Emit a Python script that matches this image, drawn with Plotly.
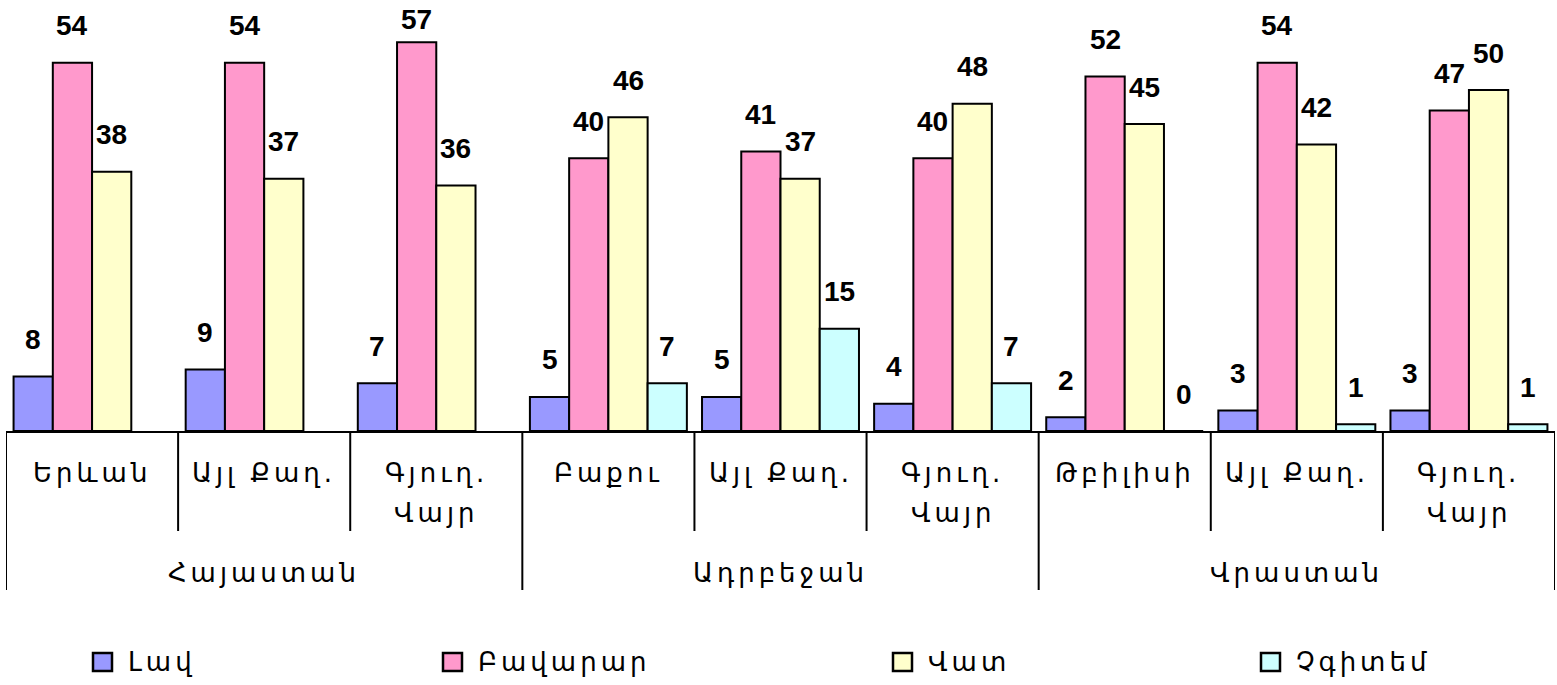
import plotly.graph_objects as go

# Survey results by settlement type, grouped by country
categories = ["Երևան", "Այլ Քաղ.", "Գյուղ.\nՎայր",
              "Բաքու", "Այլ Քաղ.", "Գյուղ.\nՎայր",
              "Թբիլիսի", "Այլ Քաղ.", "Գյուղ.\nՎայր"]
countries = ["Հայաստան", "Ադրբեջան", "Վրաստան"]
cats_per_country = 3

series_names = ["Լավ", "Բավարար", "Վատ", "Չգիտեմ"]
lav = [8, 9, 7, 5, 5, 4, 2, 3, 3]
bavarar = [54, 54, 57, 40, 41, 40, 52, 54, 47]
vat = [38, 37, 36, 46, 37, 48, 45, 42, 50]
chgitem = [None, None, None, 7, 15, 7, 0, 1, 1]
series_values = [lav, bavarar, vat, chgitem]
colors = ["#9999FF", "#FF99CC", "#FFFFCC", "#CCFFFF"]

W, H = 1557, 685
M_L, M_R, M_T, M_B = 6, 2, 0, 254
PLOT_H = H - M_T - M_B
Y_MAX = 63.2
BAR_W = 0.228
LABEL_FONT = dict(family="Liberation Sans, Arial", size=28, color="black")
TEXT_FONT = dict(family="DejaVu Sans", size=26, color="black")
LABEL_GAP = 37      # px from bar top to label centre
LABEL_MIN_Y = 20    # keep labels inside the page


def paper_y(py):
    """Convert a pixel row of the page to paper y coordinates."""
    return (H - M_B - py) / PLOT_H


def bar_top_px(v):
    return H - M_B - v / Y_MAX * PLOT_H


fig = go.Figure()
annotations = []
shapes = []

n_series = len(series_values)
for j, (name, vals, col) in enumerate(zip(series_names, series_values, colors)):
    offset = (j - (n_series - 1) / 2) * BAR_W
    xs, ys = [], []
    for i, v in enumerate(vals):
        if v is None:
            continue
        xs.append(i + offset)
        ys.append(v)
        top = bar_top_px(v)
        shift = min(LABEL_GAP, top - LABEL_MIN_Y)
        annotations.append(dict(x=i + offset, y=v, xref="x", yref="y",
                                text=f"<b>{v}</b>", showarrow=False,
                                yanchor="middle", yshift=shift, font=LABEL_FONT))
    fig.add_trace(go.Bar(x=xs, y=ys, width=BAR_W, name=name,
                         marker=dict(color=col, line=dict(color="black", width=2)),
                         showlegend=False))

# Category labels and separators below the axis
for i, lab in enumerate(categories):
    for k, line in enumerate(lab.split("\n")):
        annotations.append(dict(x=i, y=paper_y(473 + 40 * k), xref="x", yref="paper",
                                text=line, showarrow=False, yanchor="middle",
                                font=TEXT_FONT))
n_cat = len(categories)
for b in range(n_cat + 1):
    is_group = b % cats_per_country == 0
    shapes.append(dict(type="line", xref="x", yref="paper",
                       x0=b - 0.5, x1=b - 0.5, y0=0,
                       y1=paper_y(590 if is_group else 531),
                       line=dict(color="black", width=2)))
for g, country in enumerate(countries):
    xc = g * cats_per_country + (cats_per_country - 1) / 2
    annotations.append(dict(x=xc, y=paper_y(573), xref="x", yref="paper",
                            text=country, showarrow=False, yanchor="middle",
                            font=TEXT_FONT))

# Legend row
legend_x = [93, 443, 893, 1261]
PW = W - M_L - M_R
for name, col, lx in zip(series_names, colors, legend_x):
    shapes.append(dict(type="rect", xref="paper", yref="paper",
                       x0=(lx - M_L) / PW, x1=(lx + 19 - M_L) / PW,
                       y0=paper_y(671), y1=paper_y(653),
                       fillcolor=col, line=dict(color="black", width=2.5)))
    annotations.append(dict(x=(lx + 33 - M_L) / PW, y=paper_y(662),
                            xref="paper", yref="paper", text=name, showarrow=False,
                            xanchor="left", yanchor="middle", align="left",
                            font=TEXT_FONT))

fig.update_layout(
    width=W, height=H,
    margin=dict(l=M_L, r=M_R, t=M_T, b=M_B),
    paper_bgcolor="white", plot_bgcolor="white",
    barmode="overlay",
    xaxis=dict(range=[-0.5, n_cat - 0.5], showticklabels=False, ticks="",
               showgrid=False, zeroline=False, showline=True,
               linecolor="black", linewidth=2, fixedrange=True),
    yaxis=dict(range=[0, Y_MAX], visible=False, showgrid=False, zeroline=False),
    annotations=annotations,
    shapes=shapes,
    showlegend=False,
)

# Wider tracking for the Armenian captions
spacing_js = """
document.querySelectorAll('text.annotation-text').forEach(function (el) {
  if ((el.style.fontFamily || '').indexOf('DejaVu') !== -1) {
    el.style.letterSpacing = '4px';
  }
});
"""

fig.write_html("out.html", post_script=spacing_js)
